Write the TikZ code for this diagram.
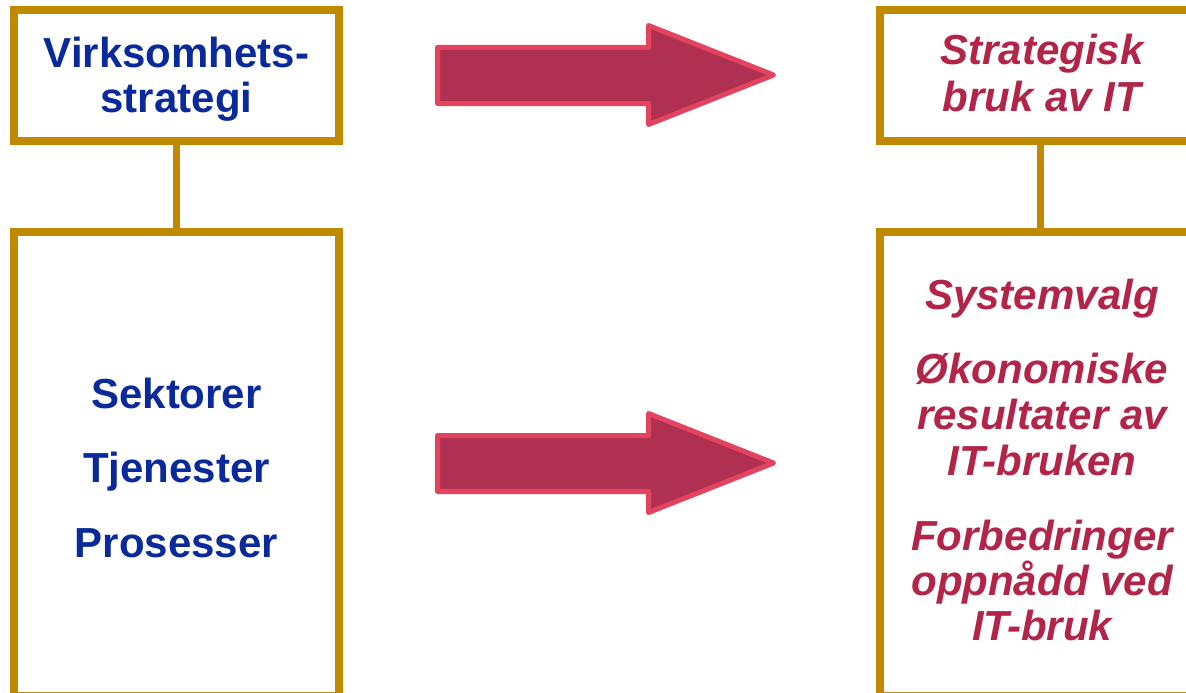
\documentclass[tikz,border=0pt]{standalone}
\usepackage{fontspec}
\setmainfont{Liberation Sans}
\definecolor{gold}{RGB}{191,138,0}
\definecolor{navy}{RGB}{10,42,155}
\definecolor{wine}{RGB}{178,36,72}
\definecolor{arrowfill}{RGB}{176,48,82}
\definecolor{arrowedge}{RGB}{226,67,95}
\tikzset{
  frame/.style={draw=gold, line width=8pt, fill=white, rectangle, inner sep=0pt},
  link/.style={draw=gold, line width=7pt},
  bluetxt/.style={inner sep=0pt, anchor=base, text=navy, font=\fontsize{42}{45}\selectfont\bfseries},
  redtxt/.style={inner sep=0pt, anchor=base, text=wine, font=\fontsize{42}{45}\selectfont\bfseries\itshape},
  bigarrow/.style={fill=arrowfill, draw=arrowedge, line width=5pt, line join=round}
}
\begin{document}
\begin{tikzpicture}[x=1pt,y=-1pt]
\useasboundingbox (0,0) rectangle (1186,693);
\clip (0,0) rectangle (1186,693);
% boxes
\node[frame, minimum width=324.5pt, minimum height=130.5pt] (boxLT) at (176.25,75.75) {};
\node[frame, minimum width=324.5pt, minimum height=464pt] (boxLB) at (176.25,464) {};
\node[frame, minimum width=321pt, minimum height=130.5pt] (boxRT) at (1040,75.75) {};
\node[frame, minimum width=321pt, minimum height=464pt] (boxRB) at (1040,464) {};
\draw[link] (boxLT.south) -- (boxLB.north);
\draw[link] (boxRT.south) -- (boxRB.north);
% arrows
\foreach \dy in {0,388}{
  \path[bigarrow, shift={(0,\dy)}] (437.5,47.5) -- (648.5,47.5) -- (648.5,25.5) -- (773.5,75)
     -- (648.5,124.5) -- (648.5,103.5) -- (437.5,103.5) -- cycle;
}
% left texts
\node[bluetxt] (v1) at (176.5,67) {Virksomhets-};
\node[bluetxt] (v2) at (176.5,112) {strategi};
\node[bluetxt] (s1) at (176.5,408) {Sektorer};
\node[bluetxt] (s2) at (176.5,482) {Tjenester};
\node[bluetxt] (s3) at (176.5,557) {Prosesser};
% right texts
\node[redtxt] (r1) at (1042,65) {Strategisk};
\node[redtxt] (r2) at (1042,111) {bruk av IT};
\node[redtxt] (q1) at (1042,309) {Systemvalg};
\node[redtxt] (q2) at (1042,383) {Økonomiske};
\node[redtxt] (q3) at (1042,429) {resultater av};
\node[redtxt] (q4) at (1042,475) {IT-bruken};
\node[redtxt] (q5) at (1042,550) {Forbedringer};
\node[redtxt] (q6) at (1042,595) {oppnådd ved};
\node[redtxt] (q7) at (1042,640) {IT-bruk};
\end{tikzpicture}
\end{document}
